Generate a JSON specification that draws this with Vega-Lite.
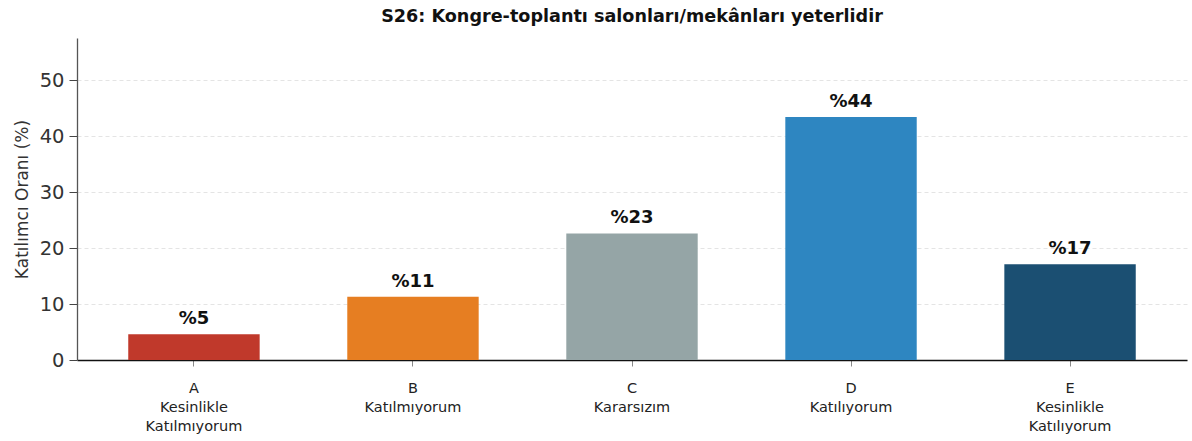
{
  "$schema": "https://vega.github.io/schema/vega-lite/v6.json",
  "width": 1110,
  "height": 322,
  "autosize": {"type": "none"},
  "padding": {"left": 77, "top": 38, "right": 5, "bottom": 81},
  "background": "white",
  "title": {
    "text": "S26: Kongre-toplantı salonları/mekânları yeterlidir",
    "font": "DejaVu Sans",
    "fontSize": 17.6,
    "fontWeight": "bold",
    "color": "#111111",
    "anchor": "middle",
    "offset": 12
  },
  "config": {
    "view": {"stroke": null},
    "font": "DejaVu Sans"
  },
  "data": {
    "values": [
      {"cat": "A|Kesinlikle|Katılmıyorum", "pct": 4.6, "label": "%5", "color": "#c0392b"},
      {"cat": "B|Katılmıyorum", "pct": 11.3, "label": "%11", "color": "#e67e22"},
      {"cat": "C|Kararsızım", "pct": 22.6, "label": "%23", "color": "#95a5a6"},
      {"cat": "D|Katılıyorum", "pct": 43.4, "label": "%44", "color": "#2e86c1"},
      {"cat": "E|Kesinlikle|Katılıyorum", "pct": 17.1, "label": "%17", "color": "#1b4f72"}
    ]
  },
  "encoding": {
    "x": {
      "field": "cat",
      "type": "nominal",
      "sort": null,
      "scale": {"paddingInner": 0.4, "paddingOuter": 0.234},
      "axis": {
        "title": null,
        "labelAngle": 0,
        "labelExpr": "split(datum.value, '|')",
        "labelFont": "DejaVu Sans",
        "labelFontSize": 14.5,
        "labelLineHeight": 19,
        "labelColor": "#222222",
        "labelPadding": 15,
        "tickColor": "#888888",
        "tickSize": 6,
        "domainColor": "#111111",
        "domainWidth": 1.5,
        "grid": false
      }
    },
    "y": {
      "field": "pct",
      "type": "quantitative",
      "scale": {"domain": [0, 57.5], "nice": false},
      "axis": {
        "title": "Katılımcı Oranı (%)",
        "titleFont": "DejaVu Sans",
        "titleFontSize": 17,
        "titleFontWeight": "normal",
        "titleColor": "#333333",
        "titlePadding": 8,
        "values": [0, 10, 20, 30, 40, 50],
        "labelFont": "DejaVu Sans",
        "labelFontSize": 19.5,
        "labelColor": "#333333",
        "labelPadding": 5,
        "tickColor": "#444444",
        "tickSize": 8,
        "domainColor": "#555555",
        "domainWidth": 1.3,
        "grid": true,
        "gridColor": "#dddddd",
        "gridDash": [4, 3],
        "gridWidth": 0.8
      }
    }
  },
  "layer": [
    {
      "mark": {"type": "bar"},
      "encoding": {
        "color": {"field": "color", "type": "nominal", "scale": null, "legend": null}
      }
    },
    {
      "mark": {
        "type": "text",
        "baseline": "bottom",
        "dy": -6,
        "font": "DejaVu Sans",
        "fontSize": 18,
        "fontWeight": "bold",
        "color": "#111111"
      },
      "encoding": {
        "text": {"field": "label", "type": "nominal"}
      }
    }
  ]
}
